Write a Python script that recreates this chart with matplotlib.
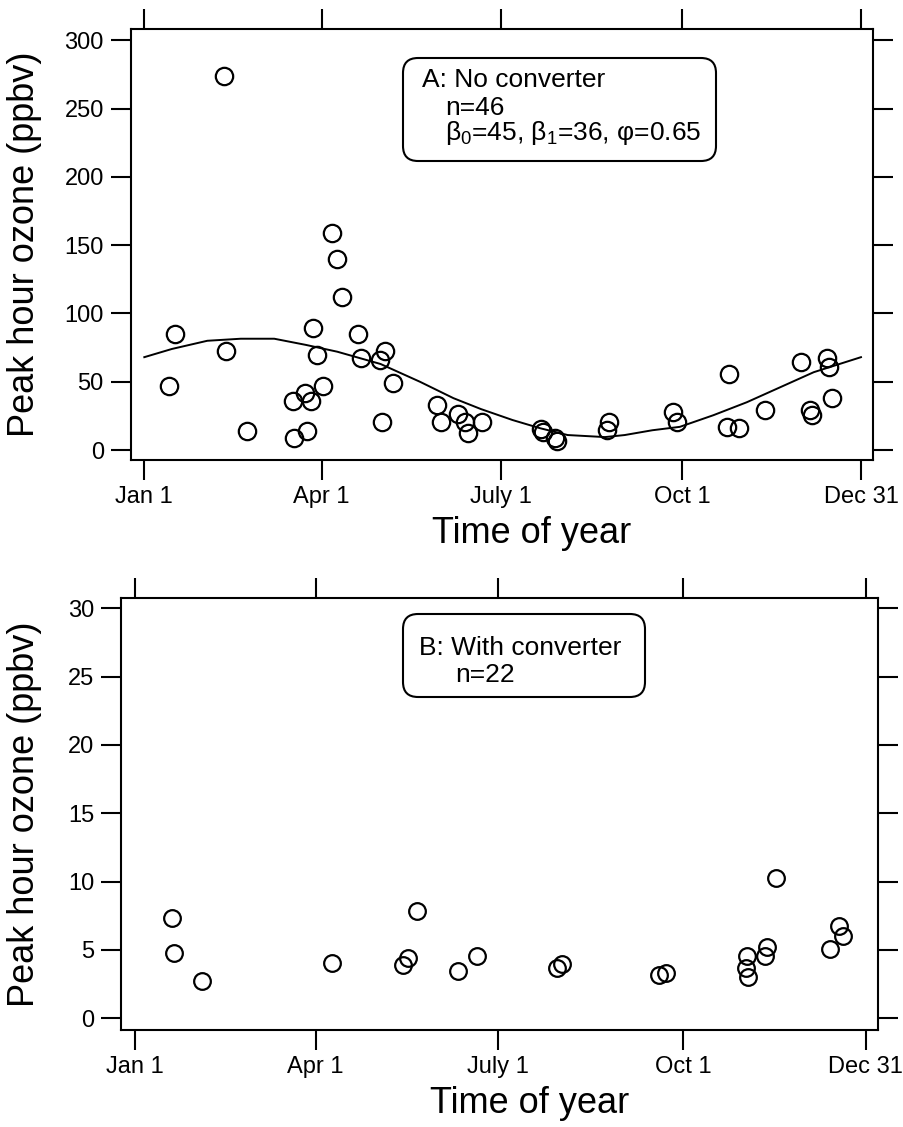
import matplotlib
matplotlib.use("Agg")
import matplotlib.pyplot as plt
from matplotlib.patches import FancyBboxPatch

plt.rcParams['font.family'] = ['Liberation Sans', 'DejaVu Sans']
plt.rcParams['mathtext.fontset'] = 'custom'
plt.rcParams['mathtext.rm'] = 'Liberation Sans'
plt.rcParams['mathtext.default'] = 'regular'

# tick dates (day of year)
date_days = [1, 91, 182, 274, 365]
date_names = ["Jan 1", "Apr 1", "July 1", "Oct 1", "Dec 31"]

# panel A: no converter (day of year, peak hour ozone ppbv)
a_day = [16.4, 13.7, 42.5, 41.5, 53.2, 96.5, 98.9, 101.2, 86.8, 88.5,
         91.6, 76.4, 82.6, 85.7, 77.2, 83.5, 109.5, 110.9, 123.2, 120.7,
         127.5, 121.7, 149.5, 151.7, 160.5, 163.9, 165.6, 172.4, 202.5, 203.3,
         209.6, 210.8, 236.8, 236.0, 269.3, 271.7, 298.1, 297.1, 303.2, 316.2,
         334.4, 347.6, 348.7, 339.2, 340.3, 350.1]
a_val = [84.7, 46.8, 72.7, 273.8, 13.9, 158.6, 139.8, 112.2, 89.3, 69.5,
         46.8, 36.1, 41.5, 36.1, 8.6, 13.9, 84.7, 67.6, 72.7, 65.9,
         48.8, 20.7, 32.9, 20.7, 26.1, 20.7, 12.2, 20.7, 15.4, 13.4,
         8.6, 6.6, 20.7, 14.6, 28.0, 20.7, 55.4, 17.1, 16.3, 29.3,
         64.2, 67.6, 60.5, 29.3, 25.6, 37.8]

# seasonal fit curve
fit_day = [1, 15, 33, 50, 67, 83, 99, 121, 141, 158, 172, 188, 202, 216,
           235, 245, 259, 273, 290, 307, 324, 341, 365]
fit_val = [68, 74, 80, 81.5, 81.5, 77, 72, 63, 50, 38, 30, 22, 16, 11,
           9.5, 11, 14.5, 17, 25.5, 35, 46, 57, 68]

# panel B: with converter
b_day = [19.3, 20.4, 34.5, 99.3, 141.7, 136.9, 134.7, 161.8, 171.3, 211.4,
         213.6, 262.1, 265.4, 305.3, 305.8, 306.6, 314.9, 316.0, 320.2, 347.1,
         351.7, 353.9]
b_val = [7.32, 4.75, 2.75, 4.07, 7.85, 4.39, 3.90, 3.46, 4.58, 3.66,
         3.97, 3.17, 3.34, 3.66, 4.58, 3.05, 4.58, 5.24, 10.24, 5.07,
         6.78, 6.02]

fig = plt.figure(figsize=(9.04, 11.27), dpi=100)
ax1 = fig.add_axes([0.1446, 0.5918, 0.8211, 0.3827])
ax2 = fig.add_axes([0.1338, 0.0861, 0.8374, 0.3833])

ax1.plot(fit_day, fit_val, '-', color='k', lw=1.4)
ax1.plot(a_day, a_val, 'o', mfc='none', mec='k', ms=12.5, mew=1.6)
ax2.plot(b_day, b_val, 'o', mfc='none', mec='k', ms=12, mew=1.6)

ax1.set_xlim(-5.9, 371.1)
ax1.set_ylim(-7.3, 308.4)
ax1.set_yticks(range(0, 301, 50))
ax2.set_xlim(-6, 371.1)
ax2.set_ylim(-0.86, 30.75)
ax2.set_yticks(range(0, 31, 5))

for ax in (ax1, ax2):
    ax.set_xticks(date_days, date_names)
    for s in ax.spines.values():
        s.set_linewidth(1.5)
    ax.tick_params(direction='out', length=14.4, width=1.5, top=True,
                   right=True, labelsize=17)
    ax.tick_params(axis='y', pad=5)
    ax.tick_params(axis='x', pad=4)
    ax.set_xlabel("Time of year", fontsize=26)
    ax.set_ylabel("Peak hour ozone (ppbv)", fontsize=26)

ax1.xaxis.set_label_coords(0.54, -0.13)
ax2.xaxis.set_label_coords(0.54, -0.13)
ax1.yaxis.set_label_coords(-0.119, 0.5)
ax2.yaxis.set_label_coords(-0.104, 0.5)

# annotation boxes (inches from lower left of figure)
tr = fig.dpi_scale_trans
fig.patches.append(FancyBboxPatch((4.03, 9.66), 3.13, 1.03,
                                  boxstyle="round,pad=0,rounding_size=0.15",
                                  fc='white', ec='k', lw=1.5, transform=tr,
                                  figure=fig))
fig.text(4.22, 10.40, "A: No converter", fontsize=19, transform=tr, va='baseline')
fig.text(4.45, 10.12, "n=46", fontsize=19, transform=tr, va='baseline')
fig.text(4.45, 9.87, "β$_0$=45, β$_1$=36, φ=0.65", fontsize=19, transform=tr,
         va='baseline')

fig.patches.append(FancyBboxPatch((4.03, 4.30), 2.42, 0.83,
                                  boxstyle="round,pad=0,rounding_size=0.15",
                                  fc='white', ec='k', lw=1.5, transform=tr,
                                  figure=fig))
fig.text(4.19, 4.72, "B: With converter", fontsize=19, transform=tr, va='baseline')
fig.text(4.55, 4.45, "n=22", fontsize=19, transform=tr, va='baseline')

fig.savefig("out.png", dpi=100)
